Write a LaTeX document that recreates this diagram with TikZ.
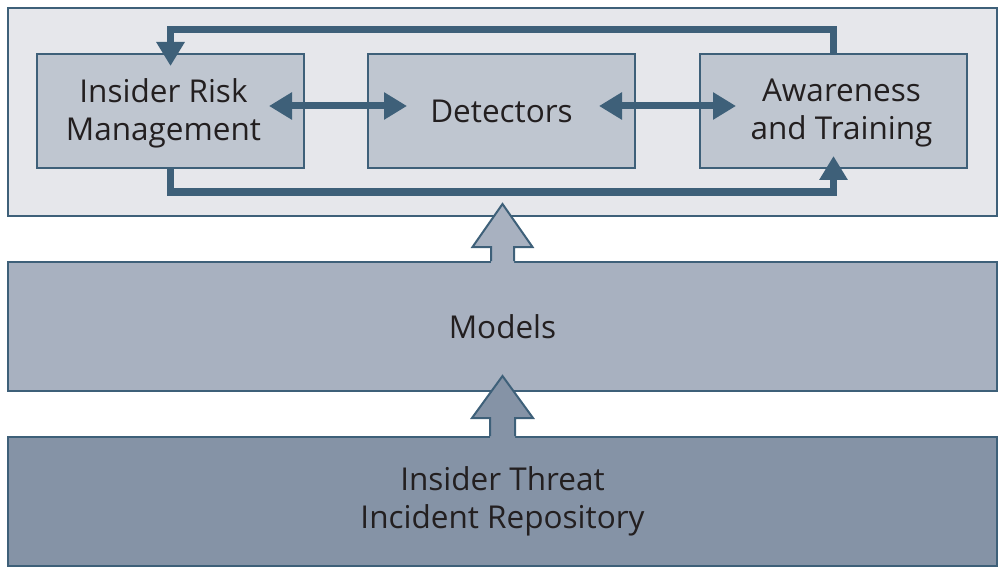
\documentclass[tikz,border=0pt]{standalone}
\usepackage{fontspec}
\setmainfont{Open Sans}
\usetikzlibrary{arrows.meta, calc}
\definecolor{edge}{HTML}{3E6079}
\definecolor{panelgray}{HTML}{E6E7EB}
\definecolor{boxgray}{HTML}{BFC6D0}
\definecolor{modelgray}{HTML}{A8B1C0}
\definecolor{repogray}{HTML}{8593A6}
\definecolor{ink}{HTML}{231F20}

\begin{document}
\begin{tikzpicture}[
  x=1pt, y=-1pt,
  panel/.style={rectangle, draw=edge, line width=2pt, fill=panelgray, minimum width=989pt, minimum height=208pt, inner sep=0pt},
  box/.style={rectangle, draw=edge, line width=2pt, fill=boxgray, minimum width=267pt, minimum height=114pt, inner sep=0pt},
  boxtext/.style={inner sep=0pt, text=ink, align=center, font=\fontsize{31.5}{38}\selectfont},
  layer/.style={rectangle, draw=edge, line width=2pt, minimum width=989pt, minimum height=129pt, inner sep=0pt, text=ink, align=center, font=\fontsize{31.5}{38}\selectfont},
  loop/.style={draw=edge, line width=7pt},
]
  \useasboundingbox (0,0) rectangle (999,567);

  % Top panel
  \node[panel] (panel) at (502.5, 112) {};

  % Boxes
  \node[box] (irm) at (170.5, 111) {};
  \node[box] (det) at (501.5, 111) {};
  \node[box] (awa) at (833.5, 111) {};
  \node[boxtext] (irmtext) at ($(irm)+(-7,2)$) {Insider Risk\\Management};
  \node[boxtext] (dettext) at (det) {Detectors};
  \node[boxtext] (awatext) at ($(awa)+(8,2)$) {Awareness\\and Training};

  % Layers
  \node[layer, fill=modelgray] (models) at (502.5, 326.5) {Models};
  \node[layer, fill=repogray] (repo) at (502.5, 501.5) {Insider Threat\\Incident Repository};

  % Loop lines
  \coordinate (topy) at (0, 29.5);
  \coordinate (boty) at (0, 192);
  \draw[loop, -{Triangle[length=24pt, width=27pt]}] (awa.north) -- (awa.north |- topy) -| ($(irm.north)+(0,13)$);
  \draw[loop, -{Triangle[length=24pt, width=27pt]}] (irm.south) -- (irm.south |- boty) -| ($(awa.south)+(0,-13)$);

  % Double arrows
  \draw[loop, {Triangle[length=23pt, width=26pt]}-{Triangle[length=23pt, width=26pt]}] ($(irm.east)+(-36,-5)$) -- ($(det.west)+(40,-5)$);
  \draw[loop, {Triangle[length=23pt, width=26pt]}-{Triangle[length=23pt, width=26pt]}] ($(det.east)+(-37,-5)$) -- ($(awa.west)+(37,-5)$);

  % Big arrows
  \fill[modelgray] ($(models.north)+(-11.5,2)$) -- ++(0,-16) -- ++(-18.5,0) -- ++(30,-43) -- ++(30,43) -- ++(-18.5,0) -- ++(0,16) -- cycle;
  \draw[edge, line width=2pt, line join=miter] ($(models.north)+(-11.5,0)$) -- ++(0,-14) -- ++(-18.5,0) -- ++(30,-43) -- ++(30,43) -- ++(-18.5,0) -- ++(0,14);
  \fill[repogray] ($(repo.north)+(-12.5,2)$) -- ++(0,-20) -- ++(-18,0) -- ++(30.5,-42) -- ++(30.5,42) -- ++(-18,0) -- ++(0,20) -- cycle;
  \draw[edge, line width=2pt, line join=miter] ($(repo.north)+(-12.5,0)$) -- ++(0,-18) -- ++(-18,0) -- ++(30.5,-42) -- ++(30.5,42) -- ++(-18,0) -- ++(0,18);

\end{tikzpicture}
\end{document}
